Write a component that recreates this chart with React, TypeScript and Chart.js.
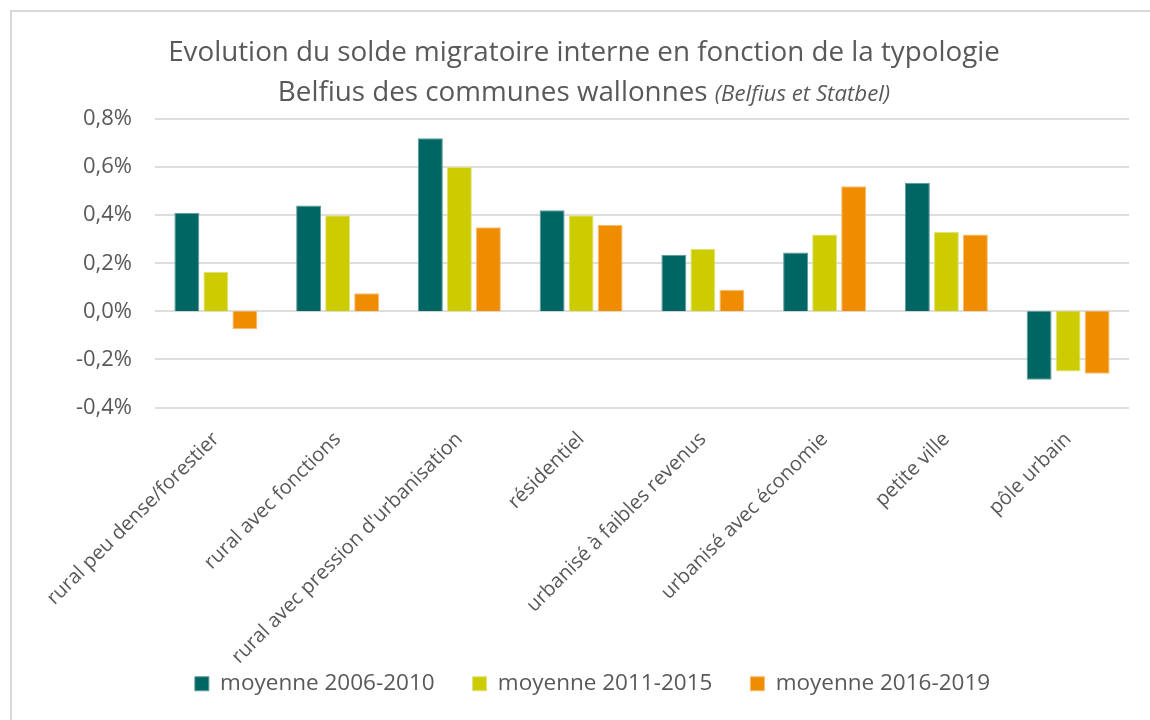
import React, { useEffect, useRef } from 'react';
import { Chart, registerables } from 'chart.js';

Chart.register(...registerables);

const categories = [
  'rural peu dense/forestier',
  'rural avec fonctions',
  "rural avec pression d'urbanisation",
  'résidentiel',
  'urbanisé à faibles revenus',
  'urbanisé avec économie',
  'petite ville',
  'pôle urbain',
];

const seriesLabels = ['moyenne 2006-2010', 'moyenne 2011-2015', 'moyenne 2016-2019'];

const moyenne2006_2010 = [0.41, 0.44, 0.72, 0.42, 0.235, 0.245, 0.535, -0.285];
const moyenne2011_2015 = [0.165, 0.4, 0.6, 0.4, 0.26, 0.32, 0.33, -0.25];
const moyenne2016_2019 = [-0.075, 0.075, 0.35, 0.36, 0.09, 0.52, 0.32, -0.26];

const yMin = -0.4;
const yMax = 0.8;
const yStep = 0.2;

const titleLine1 = 'Evolution du solde migratoire interne en fonction de la typologie';
const titleLine2 = 'Belfius des communes wallonnes';
const titleSource = '(Belfius et Statbel)';

const colors = ['#006663', '#CCCC00', '#F08C00'];
const borderColors = ['#5f9c99', '#e2e27a', '#f6bd70'];
const textColor = '#595959';
const gridColor = '#dedede';
const fontFamily = '"Open Sans", "DejaVu Sans", sans-serif';

const titlePlugin = {
  id: 'customTitle',
  afterDraw(chart: any) {
    const ctx = chart.ctx as CanvasRenderingContext2D;
    ctx.save();
    ctx.fillStyle = textColor;
    ctx.textBaseline = 'middle';
    ctx.textAlign = 'left';
    ctx.font = `24px ${fontFamily}`;
    const w24 = ctx.measureText(titleLine1).width;
    const size = (24 * 832) / w24;
    const cx = 584;
    ctx.font = `${size}px ${fontFamily}`;
    const w1 = ctx.measureText(titleLine1).width;
    ctx.fillText(titleLine1, cx - w1 / 2, 53);
    const wMain = ctx.measureText(titleLine2 + ' ').width;
    const italicSize = size * 0.8;
    ctx.font = `italic ${italicSize}px ${fontFamily}`;
    const wSrc = ctx.measureText(titleSource).width;
    const start = cx - (wMain + wSrc) / 2;
    ctx.font = `${size}px ${fontFamily}`;
    ctx.fillText(titleLine2, start, 93);
    ctx.font = `italic ${italicSize}px ${fontFamily}`;
    ctx.fillText(titleSource, start + wMain, 95);
    ctx.restore();
  },
};

// let the long rotated category labels run below the axis box (no clipping)
const unclipPlugin = {
  id: 'unclipXLabels',
  afterLayout(chart: any) {
    const x = chart.scales.x;
    if (x) x.bottom = chart.height;
  },
};

function formatPct(v: number): string {
  const n = Math.abs(v) < 1e-9 ? 0 : v;
  return n.toFixed(1).replace('.', ',') + '%';
}

export default function App() {
  const canvasRef = useRef<HTMLCanvasElement | null>(null);

  useEffect(() => {
    if (!canvasRef.current) return;
    const series = [moyenne2006_2010, moyenne2011_2015, moyenne2016_2019];
    const chart = new Chart(canvasRef.current, {
      type: 'bar',
      data: {
        labels: categories,
        datasets: series.map((d, i) => ({
          label: seriesLabels[i],
          data: d,
          backgroundColor: colors[i],
          borderColor: borderColors[i],
          borderWidth: 1,
          categoryPercentage: 0.715,
          barPercentage: 0.86,
        })),
      },
      options: {
        responsive: false,
        animation: false,
        maintainAspectRatio: false,
        layout: { padding: { left: 56, right: 21, top: 119, bottom: 15 } },
        plugins: {
          title: { display: false },
          tooltip: { enabled: false },
          legend: {
            position: 'bottom',
            align: 'center',
            labels: {
              boxWidth: 14,
              boxHeight: 14,
              padding: 38,
              color: textColor,
              font: { family: fontFamily, size: 22.5 },
            },
          },
        },
        scales: {
          x: {
            grid: { display: false, drawTicks: false },
            border: { display: false },
            ticks: {
              color: textColor,
              font: { family: fontFamily, size: 20 },
              minRotation: 45,
              maxRotation: 45,
              padding: 20,
              autoSkip: false,
            },
            afterFit: (scale: any) => {
              scale.height = 227;
            },
          },
          y: {
            min: yMin,
            max: yMax,
            grid: { color: gridColor, lineWidth: 2, drawTicks: false },
            border: { display: false },
            ticks: {
              stepSize: yStep,
              color: textColor,
              font: { family: fontFamily, size: 22 },
              padding: 23,
              callback: (v: any) => formatPct(Number(v)),
            },
            afterFit: (scale: any) => {
              scale.width = 99;
            },
          },
        },
      },
      plugins: [titlePlugin, unclipPlugin],
    });
    return () => chart.destroy();
  }, []);

  return (
    <div style={{ position: 'fixed', left: 0, top: 0, width: 1150, height: 720, background: '#fff' }}>
      <canvas ref={canvasRef} width={1150} height={720} style={{ display: 'block' }} />
      <div
        style={{
          position: 'absolute',
          left: 10,
          top: 10,
          right: 0,
          bottom: 0,
          borderLeft: '2px solid #d9d9d9',
          borderTop: '2px solid #d9d9d9',
          pointerEvents: 'none',
        }}
      />
    </div>
  );
}
